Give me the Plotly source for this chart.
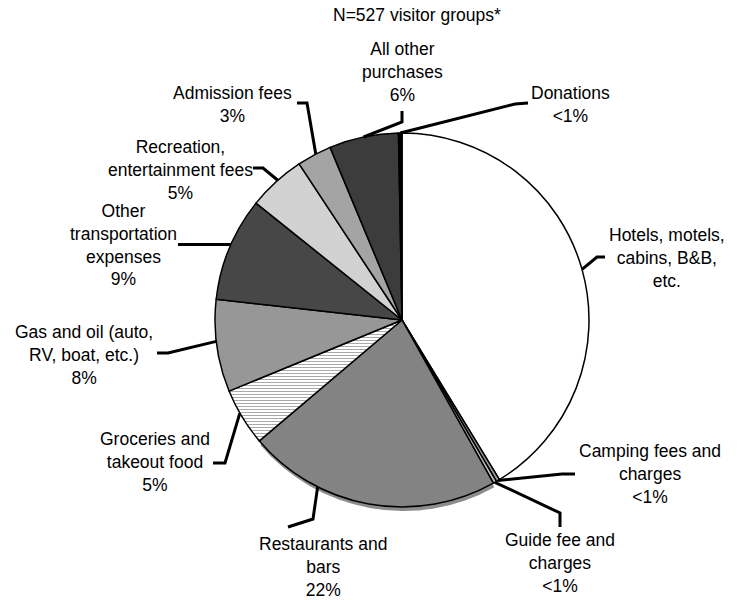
import math
import plotly.graph_objects as go

W, H = 738, 600
FONT = "Liberation Sans, Arial, sans-serif"

# Spending categories, clockwise from 12 o'clock
categories = [
    "Hotels, motels,<br>cabins, B&B,<br>etc.",
    "Camping fees and<br>charges",
    "Guide fee and<br>charges",
    "Restaurants and<br>bars",
    "Groceries and<br>takeout food",
    "Gas and oil (auto,<br>RV, boat, etc.)",
    "Other<br>transportation<br>expenses",
    "Recreation,<br>entertainment fees",
    "Admission fees",
    "All other<br>purchases",
    "Donations",
]
shares = [41.4, 0.3, 0.3, 22, 5, 8, 9, 5, 3, 6, 0.3]
share_text = ["", "<1%", "<1%", "22%", "5%", "8%", "9%", "5%", "3%", "6%", "<1%"]
title_text = "N=527 visitor groups*"

# Slice fills and fine textures
fills = ["#ffffff", "#9a9a9a", "#bdbdbd", "#939393", "#ffffff", "#b2b2b2",
         "#3a3a3a", "#ececec", "#b9b9b9", "#3c3c3c", "#000000"]
pat_shape = ["", "", "", ".", "-", ".", "-", ".", ".", "", ""]
pat_fg = ["#000", "#000", "#000", "#6a6a6a", "#a0a0a0", "#6e6e6e",
          "#5a5a5a", "#a8a8a8", "#858585", "#000", "#000"]
pat_size = [4, 4, 4, 2, 3, 2, 2, 2, 2, 4, 4]
pat_solid = [0.3, 0.3, 0.3, 0.4, 0.3, 0.45, 0.4, 0.4, 0.45, 0.3, 0.3]

# Pie geometry in pixels
CX, CY, R = 402, 320, 187


def px(x):
    return x / W


def py(y):
    return 1 - y / H


def edge_point(i, frac):
    total = sum(shares)
    cum = sum(shares[:i]) + frac * shares[i]
    th = 2 * math.pi * cum / total
    return CX + R * math.sin(th), CY - R * math.cos(th)


fig = go.Figure()

# drop shadow under the lower arc
shadow_colors = ["rgba(0,0,0,0)"] * len(shares)
shadow_colors[3] = "#8c8c8c"
fig.add_trace(go.Pie(
    values=shares, labels=[str(i) for i in range(len(shares))],
    sort=False, direction="clockwise", rotation=0,
    marker=dict(colors=shadow_colors, line=dict(width=0)),
    textinfo="none", hoverinfo="skip", showlegend=False,
    domain=dict(x=[px(CX - R + 1), px(CX + R + 1)], y=[py(CY + R + 4), py(CY - R + 4)]),
))

fig.add_trace(go.Pie(
    values=shares, labels=[str(i) for i in range(len(shares))],
    sort=False, direction="clockwise", rotation=0,
    marker=dict(
        colors=fills,
        line=dict(color="black", width=1.5),
        pattern=dict(shape=pat_shape, fgcolor=pat_fg, bgcolor=fills,
                     size=pat_size, solidity=pat_solid, fillmode="replace"),
    ),
    textinfo="none", hoverinfo="skip", showlegend=False,
    domain=dict(x=[px(CX - R), px(CX + R)], y=[py(CY + R), py(CY - R)]),
))

# label placement: (center x, center y, anchor fraction within slice, leader elbow points)
label_pos = [
    (667, 258, 0.5, [(605, 257), (597, 257)]),
    (650, 474, 0.5, [(575, 474), (562, 474)]),
    (560, 563, 0.5, [(560, 527), (560, 513)]),
    (323, 567, 0.71, [(288, 527), (313, 519)]),
    (155, 462, 0.58, [(213, 463), (225, 463)]),
    (84, 355, 0.55, [(157, 353), (168, 353)]),
    (123, 245, 0.54, None),
    (180, 170, 0.54, [(253, 168), (263, 168)]),
    (232, 104, 0.55, [(297, 103), (307, 103)]),
    (402, 72, 0.5, [(402, 111), (402, 122)]),
    (570, 104, 0.5, [(528, 103), (515, 104)]),
]

shapes = []
annotations = []
for i, (lx, ly, frac, elbow) in enumerate(label_pos):
    ax, ay = edge_point(i, frac)
    if elbow is None:
        pts = [(178, ay), (ax, ay)]
    else:
        pts = elbow + [(ax, ay)]
    path = "M " + " L ".join(f"{px(x):.5f},{py(y):.5f}" for x, y in pts)
    shapes.append(dict(type="path", path=path, xref="paper", yref="paper",
                       line=dict(color="black", width=3)))
    text = categories[i] + ("<br>" + share_text[i] if share_text[i] else "")
    annotations.append(dict(
        x=px(lx), y=py(ly), xref="paper", yref="paper", text=text,
        showarrow=False, xanchor="center", yanchor="middle", align="center",
        font=dict(family=FONT, size=17.5, color="black"),
    ))

annotations.append(dict(
    x=px(417), y=py(15), xref="paper", yref="paper", text=title_text,
    showarrow=False, xanchor="center", yanchor="middle",
    font=dict(family=FONT, size=17.5, color="black"),
))

fig.update_layout(
    width=W, height=H,
    margin=dict(l=0, r=0, t=0, b=0),
    paper_bgcolor="white", plot_bgcolor="white",
    shapes=shapes, annotations=annotations,
    showlegend=False,
)

fig.write_html("out.html")
